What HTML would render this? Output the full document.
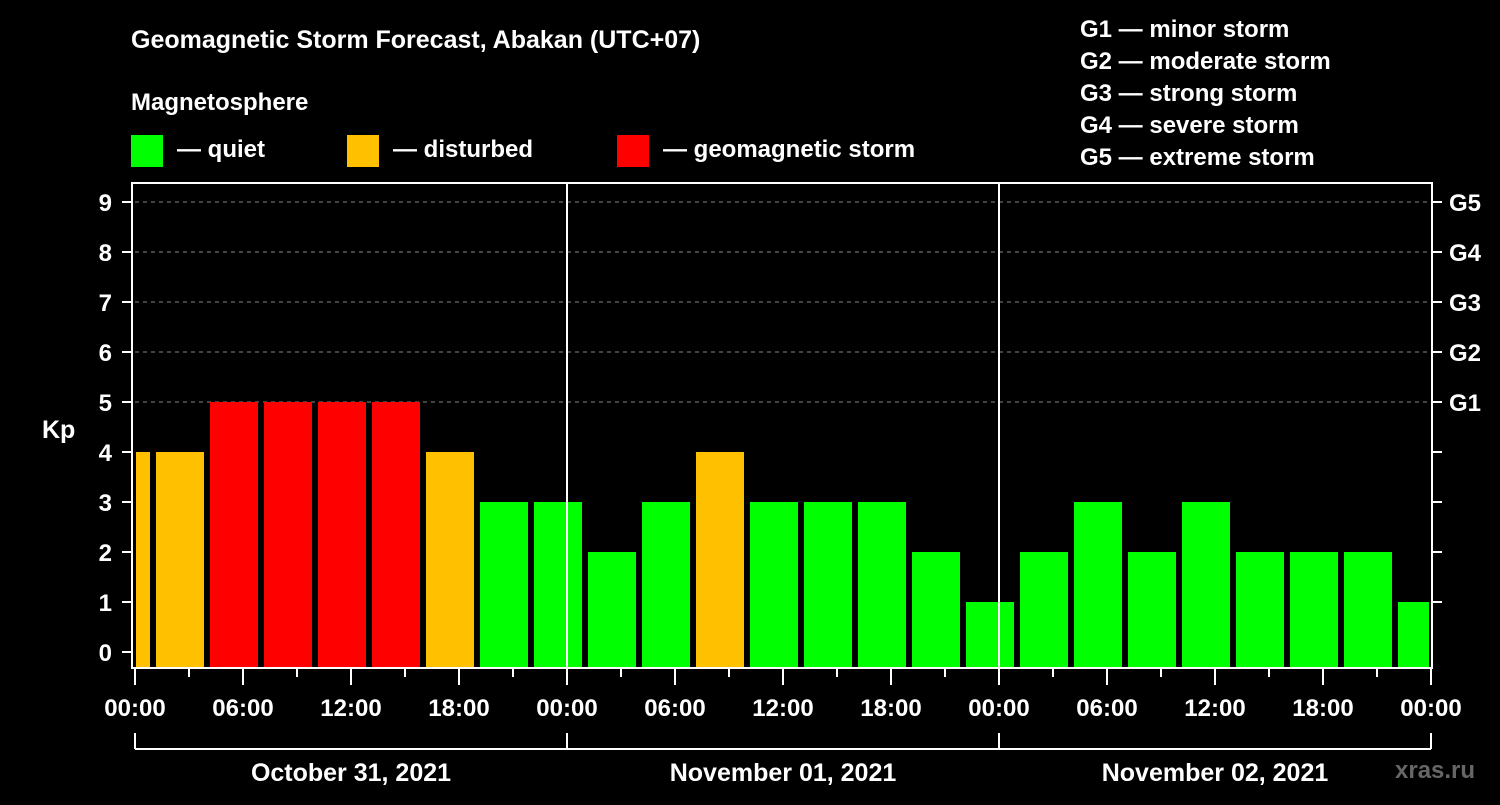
<!DOCTYPE html>
<html><head><meta charset="utf-8"><style>
html,body{margin:0;padding:0;background:#000;}
svg text{font-family:"Liberation Sans",Arial,sans-serif;font-weight:bold;fill:#fff;}
</style></head><body>
<svg id="chart" width="1500" height="800" viewBox="0 0 1500 800" xmlns="http://www.w3.org/2000/svg">
<rect width="1500" height="800" fill="#000"/>
<text x="131" y="48" font-size="25">Geomagnetic Storm Forecast, Abakan (UTC+07)</text>
<text x="131" y="110" font-size="24">Magnetosphere</text>
<g><rect x="131" y="135" width="32" height="32" fill="#00ff00"/><text x="177" y="157" font-size="24">— quiet</text></g>
<g><rect x="347" y="135" width="32" height="32" fill="#ffc000"/><text x="393" y="157" font-size="24">— disturbed</text></g>
<g><rect x="617" y="135" width="32" height="32" fill="#ff0000"/><text x="663" y="157" font-size="24">— geomagnetic storm</text></g>
<g font-size="24">
<text x="1080" y="37">G1 — minor storm</text>
<text x="1080" y="69">G2 — moderate storm</text>
<text x="1080" y="101">G3 — strong storm</text>
<text x="1080" y="133">G4 — severe storm</text>
<text x="1080" y="165">G5 — extreme storm</text>
</g>
<text x="42" y="438" font-size="25">Kp</text>
<text x="1395" y="778" font-size="24" fill="#666" style="fill:#666">xras.ru</text>
<g id="grid"></g><g id="bars"></g><g id="axes"></g>
</svg>
<script>
const kpValues=[4,4,5,5,5,5,4,3,3,2,3,4,3,3,3,2,1,2,3,2,3,2,2,2,1];
const kpLevels=[0,0,0,0,0,0,0,0,0,0,0,1,0,0,0,0,0,0,0,0,0,0,0,0,0]; // unused level overrides
const yTicks=[0,1,2,3,4,5,6,7,8,9];
const gLabels=["G1","G2","G3","G4","G5"];
const hourLabels=["00:00","06:00","12:00","18:00"];
const dayLabels=["October 31, 2021","November 01, 2021","November 02, 2021"];
const NS="http://www.w3.org/2000/svg";
const X0=135,PX_H=18,Y0=652,PX_KP=50,BOT=668,TOP=183,RIGHT=1431;
const xs=h=>X0+h*PX_H, ys=v=>Y0-v*PX_KP;
function mk(tag,attrs,parent){const e=document.createElementNS(NS,tag);for(const k in attrs)e.setAttribute(k,attrs[k]);parent.appendChild(e);return e;}
const grid=document.getElementById('grid'),bars=document.getElementById('bars'),axes=document.getElementById('axes');
function color(v){return v>=5?"#ff0000":v>=4?"#ffc000":"#00ff00";}
kpValues.forEach((v,i)=>{
  let s=-2+3*i,e=s+3;
  let x1=Math.max(xs(s)+3,xs(0)+1),x2=Math.min(xs(e)-3,RIGHT-2);
  const r=mk('rect',{x:x1,y:ys(v),width:x2-x1,height:BOT-ys(v),fill:color(v)},bars);
  
  
});
yTicks.forEach(v=>{
  const y=ys(v);
  if(v>=5){const l=mk('line',{x1:X0,x2:RIGHT,y1:y,y2:y,stroke:"#888","stroke-dasharray":"4,4","stroke-width":1},grid);
    }
  mk('line',{x1:122,x2:132,y1:y,y2:y,stroke:"#fff","stroke-width":2},axes);
  if(v>=1) mk('line',{x1:RIGHT,x2:1442,y1:y,y2:y,stroke:"#fff","stroke-width":2},axes);
  const t=mk('text',{x:112,y:y+9,"font-size":24,"text-anchor":"end"},axes);t.textContent=v;
  
});
gLabels.forEach((g,i)=>{const t=mk('text',{x:1449,y:ys(5+i)+9,"font-size":24},axes);t.textContent=g;
  });
mk('rect',{x:132,y:TOP,width:RIGHT-132+1,height:BOT-TOP,fill:"none",stroke:"#fff","stroke-width":2},axes);
for(let d=1;d<3;d++){mk('line',{x1:xs(24*d),x2:xs(24*d),y1:TOP,y2:BOT,stroke:"#fff","stroke-width":2},axes);}
for(let h=0;h<=72;h+=3){
  const major=h%6===0;
  mk('line',{x1:xs(h),x2:xs(h),y1:BOT,y2:BOT+(major?17:9),stroke:"#fff","stroke-width":2},axes);
  if(major){const t=mk('text',{x:xs(h),y:716,"font-size":24,"text-anchor":"middle"},axes);t.textContent=hourLabels[(h/6)%4];
    }
}
mk('line',{x1:xs(0),x2:xs(72),y1:749,y2:749,stroke:"#fff","stroke-width":2},axes);
for(let d=0;d<=3;d++) mk('line',{x1:xs(24*d),x2:xs(24*d),y1:733,y2:749,stroke:"#fff","stroke-width":2},axes);
dayLabels.forEach((s,i)=>{const t=mk('text',{x:xs(24*i+12),y:781,"font-size":25,"text-anchor":"middle"},axes);t.textContent=s;
  });
</script>
</body></html>
